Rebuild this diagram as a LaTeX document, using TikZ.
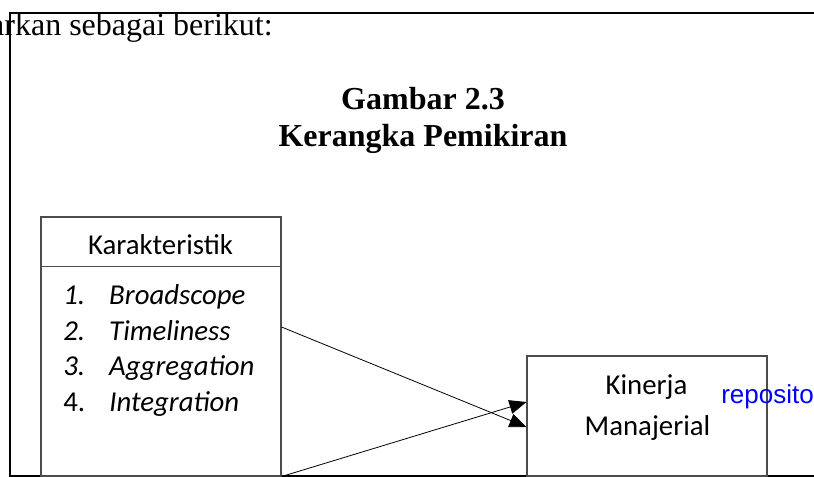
\documentclass[tikz,border=0pt]{standalone}
\usepackage{fontspec}
\setmainfont{Liberation Serif}
\newfontfamily\boxfont{Carlito}
\newfontfamily\linkfont{Liberation Sans}
\usetikzlibrary{arrows.meta, positioning}
\tikzset{
    frameline/.style={draw=black, line width=0.9pt},
    block/.style={rectangle, draw=black!70, line width=0.8pt, inner sep=0pt},
    boxtext/.style={inner sep=0pt, font=\boxfont\fontsize{21.6}{26.6}\selectfont},
    titletext/.style={inner sep=0pt, font=\bfseries\fontsize{24}{27.75}\selectfont},
    arrow/.style={line width=0.6pt, -{Triangle[length=12.75pt, width=10.5pt]}}
}

\begin{document}
\begin{tikzpicture}[x=0.75pt, y=-0.75pt]
    \clip (0,0) rectangle (814,477);
    % page text and frame
    \node (intro) [anchor=base east, inner sep=0pt, font=\fontsize{24}{28}\selectfont] at (273,36) {arkan sebagai berikut:};
    \draw [frameline] (10,13) rectangle (830,476);

    \node (gbr) [titletext, anchor=base] at (423,110) {Gambar 2.3};
    \node (krg) [titletext, anchor=base] at (423,147) {Kerangka Pemikiran};

    % boxes
    \node (kar) [block, minimum width=180pt, minimum height=194.25pt] at (161,346.5) {};
    \draw [draw=black!70, line width=0.8pt] (kar.west |- 0,266.7) -- (kar.east |- 0,266.7);
    \node (karhead) [boxtext, anchor=base] at (160.5,255) {Karakteristik};
    \node (karlist) [boxtext, anchor=base west] at (63,305) {%
        \begin{tabular}[t]{@{}p{34.5pt}@{}l@{}}
            \textit{1.} & \textit{Broadscope}\\
            \textit{2.} & \textit{Timeliness}\\
            \textit{3.} & \textit{Aggregation}\\
            4. & \textit{Integration}
        \end{tabular}};

    \node (kin) [block, minimum width=180pt, minimum height=90pt] at (647,416) {};
    \node (kin1) [boxtext, anchor=base] at (646.5,394) {Kinerja};
    \node (kin2) [boxtext, anchor=base] at (647.5,435) {Manajerial};

    \node (repo) [anchor=base west, inner sep=0pt, text=blue, font=\linkfont\fontsize{19.5}{23}\selectfont] at (721,403) {reposito};

    % connectors
    \draw [arrow] (kar.east |- 0,327) -- (kin.west |- 0,427);
    \draw [arrow] (kar.south east) -- (kin.west |- 0,402);
\end{tikzpicture}
\end{document}
